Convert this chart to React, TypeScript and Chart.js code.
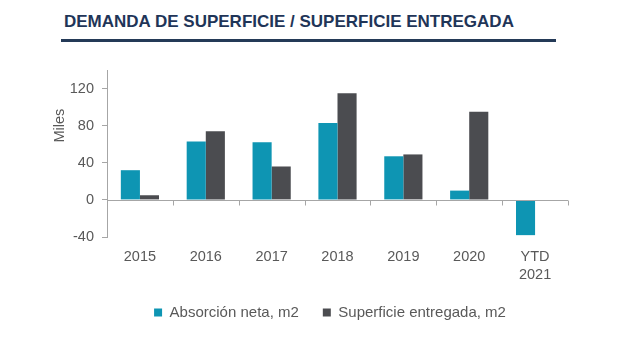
import React, { useEffect, useRef } from "react";
import { Chart, registerables } from "chart.js";

Chart.register(...registerables);

const categories: (string | string[])[] = ["2015", "2016", "2017", "2018", "2019", "2020", ["YTD", "2021"]];
const absorcionNeta: (number | null)[] = [32, 63, 62, 83, 47, 10, -38];
const superficieEntregada: (number | null)[] = [5, 74, 36, 115, 49, 95, null];
const seriesNames = ["Absorción neta, m2", "Superficie entregada, m2"];
const yTicks = { min: -40, max: 140, step: 40 };
const titleText = "DEMANDA DE SUPERFICIE / SUPERFICIE ENTREGADA";
const yAxisTitle = "Miles";

const TEAL = "#0e95b3";
const DARK = "#4b4c50";
const TEXT = "#595959";
const AXIS = "#a6a6a6";
const FONT = "'Liberation Sans', Arial, sans-serif";
const FS = 14.5;

const axisPlugin = {
  id: "zeroAxis",
  afterDatasetsDraw(chart: any) {
    const { ctx, chartArea, scales } = chart;
    const y0 = Math.round(scales.y.getPixelForValue(0)) + 0.5;
    ctx.save();
    ctx.strokeStyle = AXIS;
    ctx.lineWidth = 1;
    ctx.beginPath();
    ctx.moveTo(chartArea.left, y0);
    ctx.lineTo(chartArea.right, y0);
    const n = categories.length;
    const w = (chartArea.right - chartArea.left) / n;
    for (let i = 0; i <= n; i++) {
      const x = Math.round(chartArea.left + i * w) + 0.5;
      ctx.moveTo(x, y0);
      ctx.lineTo(x, y0 + 5);
    }
    ctx.stroke();
    const ty = scales.y.getPixelForValue(80);
    ctx.fillStyle = TEXT;
    ctx.font = `${FS}px ${FONT}`;
    ctx.textAlign = "center";
    ctx.textBaseline = "middle";
    ctx.translate(60, ty);
    ctx.rotate(-Math.PI / 2);
    ctx.fillText(yAxisTitle, 0, 0);
    ctx.restore();
  },
};

export default function App() {
  const ref = useRef<HTMLCanvasElement | null>(null);
  useEffect(() => {
    if (!ref.current) return;
    const chart = new Chart(ref.current, {
      type: "bar",
      data: {
        labels: categories as any,
        datasets: [
          { label: seriesNames[0], data: absorcionNeta, backgroundColor: TEAL, yAxisID: "y" },
          { label: seriesNames[1], data: superficieEntregada, backgroundColor: DARK, yAxisID: "y" },
        ],
      },
      options: {
        animation: false,
        responsive: false,
        maintainAspectRatio: false,
        datasets: { bar: { categoryPercentage: 0.58, barPercentage: 1.0 } },
        layout: { padding: { top: 20, left: 20, right: 0, bottom: 8 } },
        plugins: {
          title: { display: false },
          tooltip: { enabled: false },
          legend: {
            position: "bottom",
            labels: {
              boxWidth: 8,
              boxHeight: 8,
              padding: 24,
              color: TEXT,
              font: { family: FONT, size: 15 },
            },
          },
        },
        scales: {
          x: {
            grid: { display: false },
            border: { display: false },
            ticks: { color: TEXT, font: { family: FONT, size: FS, lineHeight: 1.25 }, padding: 3, maxRotation: 0 },
            afterFit: (s: any) => { s.height = 44; },
          },
          y: {
            min: yTicks.min,
            max: yTicks.max,
            ticks: {
              stepSize: yTicks.step,
              color: TEXT,
              font: { family: FONT, size: FS },
              padding: 8,
              callback: (v: any) => (v === yTicks.max ? "" : v),
            },
            grid: {
              drawOnChartArea: false,
              drawTicks: true,
              tickLength: 5,
              color: (c: any) => (c.tick && c.tick.value === yTicks.max ? "rgba(0,0,0,0)" : AXIS),
            },
            border: { display: true, color: AXIS, width: 1 },
            afterFit: (s: any) => { s.width = 87; },
          },
          y2: {
            position: "right",
            display: true,
            ticks: { display: false },
            grid: { display: false },
            border: { display: false },
            afterFit: (s: any) => { s.width = 72; },
          },
        },
      },
      plugins: [axisPlugin],
    });
    return () => chart.destroy();
  }, []);

  return (
    <div style={{ position: "absolute", left: 0, top: 0, width: 640, height: 338, background: "#fff", overflow: "hidden" }}>
      <div
        style={{
          position: "absolute",
          left: 64,
          top: 12,
          fontFamily: FONT,
          fontWeight: "bold",
          fontSize: 17,
          color: "#1f3558",
          whiteSpace: "nowrap",
          lineHeight: "20px",
        }}
      >
        {titleText}
      </div>
      <div style={{ position: "absolute", left: 61, top: 39, width: 495, height: 3, background: "#243a57" }} />
      <canvas ref={ref} width={640} height={288} style={{ position: "absolute", left: 0, top: 50, width: 640, height: 288 }} />
    </div>
  );
}
